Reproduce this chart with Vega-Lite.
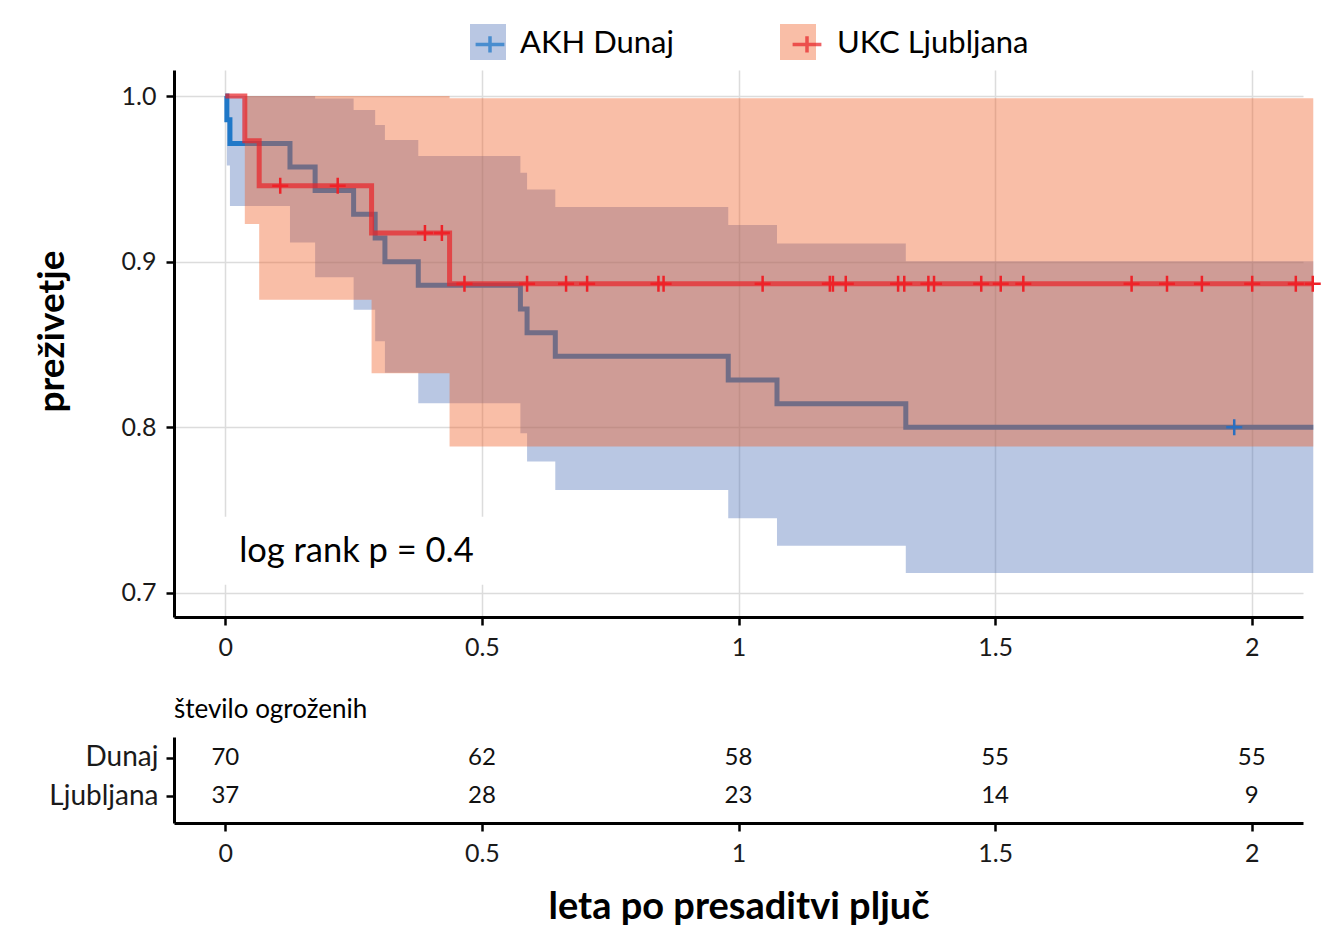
{
  "$schema": "https://vega.github.io/schema/vega-lite/v6.json",
  "background": "white",
  "padding": {"left": 33, "top": 24, "right": 5, "bottom": 5},
  "spacing": 37,
  "config": {
    "font": "Lato",
    "view": {"stroke": null},
    "axis": {
      "labelFont": "Lato", "titleFont": "Lato", "labelColor": "#1a1a1a", "titleColor": "#000",
      "domainColor": "#000", "domainWidth": 3, "tickColor": "#000", "tickWidth": 2.5, "tickSize": 8,
      "labelFontSize": 25, "grid": false
    }
  },
  "datasets": {
    "km": [
      {"group": "AKH Dunaj", "t": 0, "s": 1},
      {"group": "AKH Dunaj", "t": 0.003, "s": 0.9857},
      {"group": "AKH Dunaj", "t": 0.009, "s": 0.9714},
      {"group": "AKH Dunaj", "t": 0.126, "s": 0.9571},
      {"group": "AKH Dunaj", "t": 0.175, "s": 0.9429},
      {"group": "AKH Dunaj", "t": 0.25, "s": 0.9286},
      {"group": "AKH Dunaj", "t": 0.292, "s": 0.9143},
      {"group": "AKH Dunaj", "t": 0.311, "s": 0.9},
      {"group": "AKH Dunaj", "t": 0.376, "s": 0.8857},
      {"group": "AKH Dunaj", "t": 0.575, "s": 0.8714},
      {"group": "AKH Dunaj", "t": 0.588, "s": 0.8571},
      {"group": "AKH Dunaj", "t": 0.643, "s": 0.8429},
      {"group": "AKH Dunaj", "t": 0.98, "s": 0.8286},
      {"group": "AKH Dunaj", "t": 1.075, "s": 0.8143},
      {"group": "AKH Dunaj", "t": 1.326, "s": 0.8},
      {"group": "AKH Dunaj", "t": 2.12, "s": 0.8},
      {"group": "UKC Ljubljana", "t": 0, "s": 1},
      {"group": "UKC Ljubljana", "t": 0.038, "s": 0.973},
      {"group": "UKC Ljubljana", "t": 0.066, "s": 0.9459},
      {"group": "UKC Ljubljana", "t": 0.285, "s": 0.9173},
      {"group": "UKC Ljubljana", "t": 0.437, "s": 0.8867},
      {"group": "UKC Ljubljana", "t": 2.12, "s": 0.8867}
    ],
    "ci": [
      {"group": "AKH Dunaj", "t": 0, "lo": 1, "hi": 1},
      {"group": "AKH Dunaj", "t": 0.003, "lo": 0.958, "hi": 1},
      {"group": "AKH Dunaj", "t": 0.009, "lo": 0.9336, "hi": 1},
      {"group": "AKH Dunaj", "t": 0.126, "lo": 0.9115, "hi": 1},
      {"group": "AKH Dunaj", "t": 0.175, "lo": 0.8906, "hi": 0.9985},
      {"group": "AKH Dunaj", "t": 0.25, "lo": 0.871, "hi": 0.9915},
      {"group": "AKH Dunaj", "t": 0.292, "lo": 0.852, "hi": 0.9825},
      {"group": "AKH Dunaj", "t": 0.311, "lo": 0.833, "hi": 0.9734},
      {"group": "AKH Dunaj", "t": 0.376, "lo": 0.8145, "hi": 0.9638},
      {"group": "AKH Dunaj", "t": 0.575, "lo": 0.7964, "hi": 0.9537},
      {"group": "AKH Dunaj", "t": 0.588, "lo": 0.7793, "hi": 0.9435},
      {"group": "AKH Dunaj", "t": 0.643, "lo": 0.7622, "hi": 0.933},
      {"group": "AKH Dunaj", "t": 0.98, "lo": 0.7451, "hi": 0.9222},
      {"group": "AKH Dunaj", "t": 1.075, "lo": 0.7285, "hi": 0.911},
      {"group": "AKH Dunaj", "t": 1.326, "lo": 0.712, "hi": 0.9003},
      {"group": "AKH Dunaj", "t": 2.12, "lo": 0.712, "hi": 0.9003},
      {"group": "UKC Ljubljana", "t": 0, "lo": 1, "hi": 1},
      {"group": "UKC Ljubljana", "t": 0.038, "lo": 0.9228, "hi": 1},
      {"group": "UKC Ljubljana", "t": 0.066, "lo": 0.877, "hi": 1},
      {"group": "UKC Ljubljana", "t": 0.285, "lo": 0.8327, "hi": 1},
      {"group": "UKC Ljubljana", "t": 0.437, "lo": 0.7884, "hi": 0.9986},
      {"group": "UKC Ljubljana", "t": 2.12, "lo": 0.7884, "hi": 0.9986}
    ],
    "cens": [
      {"group": "AKH Dunaj", "t": 1.966, "s": 0.8},
      {"group": "UKC Ljubljana", "t": 0.107, "s": 0.9459},
      {"group": "UKC Ljubljana", "t": 0.219, "s": 0.9459},
      {"group": "UKC Ljubljana", "t": 0.389, "s": 0.9173},
      {"group": "UKC Ljubljana", "t": 0.422, "s": 0.9173},
      {"group": "UKC Ljubljana", "t": 0.466, "s": 0.8867},
      {"group": "UKC Ljubljana", "t": 0.588, "s": 0.8867},
      {"group": "UKC Ljubljana", "t": 0.664, "s": 0.8867},
      {"group": "UKC Ljubljana", "t": 0.705, "s": 0.8867},
      {"group": "UKC Ljubljana", "t": 0.844, "s": 0.8867},
      {"group": "UKC Ljubljana", "t": 0.854, "s": 0.8867},
      {"group": "UKC Ljubljana", "t": 1.047, "s": 0.8867},
      {"group": "UKC Ljubljana", "t": 1.178, "s": 0.8867},
      {"group": "UKC Ljubljana", "t": 1.184, "s": 0.8867},
      {"group": "UKC Ljubljana", "t": 1.209, "s": 0.8867},
      {"group": "UKC Ljubljana", "t": 1.311, "s": 0.8867},
      {"group": "UKC Ljubljana", "t": 1.323, "s": 0.8867},
      {"group": "UKC Ljubljana", "t": 1.37, "s": 0.8867},
      {"group": "UKC Ljubljana", "t": 1.381, "s": 0.8867},
      {"group": "UKC Ljubljana", "t": 1.473, "s": 0.8867},
      {"group": "UKC Ljubljana", "t": 1.511, "s": 0.8867},
      {"group": "UKC Ljubljana", "t": 1.555, "s": 0.8867},
      {"group": "UKC Ljubljana", "t": 1.766, "s": 0.8867},
      {"group": "UKC Ljubljana", "t": 1.835, "s": 0.8867},
      {"group": "UKC Ljubljana", "t": 1.903, "s": 0.8867},
      {"group": "UKC Ljubljana", "t": 2.001, "s": 0.8867},
      {"group": "UKC Ljubljana", "t": 2.086, "s": 0.8867},
      {"group": "UKC Ljubljana", "t": 2.119, "s": 0.8867}
    ],
    "risk": [
      {"strata": "Dunaj", "t": 0, "n": 70},
      {"strata": "Dunaj", "t": 0.5, "n": 62},
      {"strata": "Dunaj", "t": 1, "n": 58},
      {"strata": "Dunaj", "t": 1.5, "n": 55},
      {"strata": "Dunaj", "t": 2, "n": 55},
      {"strata": "Ljubljana", "t": 0, "n": 37},
      {"strata": "Ljubljana", "t": 0.5, "n": 28},
      {"strata": "Ljubljana", "t": 1, "n": 23},
      {"strata": "Ljubljana", "t": 1.5, "n": 14},
      {"strata": "Ljubljana", "t": 2, "n": 9}
    ]
  },
  "vconcat": [
    {
      "width": 1129,
      "height": 547,
      "layer": [
        {
          "data": {"name": "ci"},
          "transform": [{"filter": "datum.group == 'AKH Dunaj'"}],
          "mark": {"type": "area", "interpolate": "step-after", "opacity": 0.4},
          "encoding": {
            "x": {"field": "t", "type": "quantitative",
              "scale": {"domain": [-0.1, 2.1], "nice": false, "zero": false},
              "axis": {"values": [0, 0.5, 1, 1.5, 2], "format": "~g", "title": null, "grid": true, "gridColor": "#dcdcdc", "gridWidth": 1.5, "labelPadding": 10}},
            "y": {"field": "lo", "type": "quantitative",
              "scale": {"domain": [0.6855, 1.0157], "nice": false, "zero": false},
              "axis": {"values": [0.7, 0.8, 0.9, 1.0], "format": ".1f", "grid": true, "gridColor": "#dcdcdc", "gridWidth": 1.5,
                "title": "preživetje", "titleFontSize": 37, "titleFontWeight": "bold", "titlePadding": 50, "titleY": 261, "labelPadding": 10}},
            "y2": {"field": "hi"},
            "fill": {"field": "group", "type": "nominal",
              "scale": {"domain": ["AKH Dunaj", "UKC Ljubljana"], "range": ["#5073b9", "#f05d23"]},
              "legend": {"orient": "none", "legendX": 296, "legendY": -46, "direction": "horizontal", "title": null,
                "symbolType": "square", "symbolSize": 1296, "symbolOpacity": 0.4, "symbolStrokeWidth": 0,
                "labelFontSize": 31, "labelFont": "Lato", "labelOffset": 10, "columnPadding": 264, "labelExpr": "''", "padding": 0}}
          }
        },
        {
          "data": {"name": "km"},
          "transform": [{"filter": "datum.group == 'AKH Dunaj'"}],
          "mark": {"type": "line", "interpolate": "step-after", "strokeWidth": 5},
          "encoding": {
            "x": {"field": "t", "type": "quantitative"},
            "y": {"field": "s", "type": "quantitative"},
            "stroke": {"field": "group", "type": "nominal",
              "scale": {"range": ["#1f78c8", "#e8262a"]},
              "legend": {"orient": "none", "legendX": 296, "legendY": -46, "direction": "horizontal", "title": null,
                "symbolType": "M-0.8,0H0.8M0,-0.45V0.45", "symbolSize": 1296, "symbolStrokeWidth": 3.5, "symbolFillColor": "transparent", "symbolOpacity": 1,
                "labelFontSize": 31, "labelFont": "Lato", "labelColor": "#000", "labelOffset": 10, "labelLimit": 400, "columnPadding": 111, "padding": 0}}
          }
        },
        {
          "data": {"name": "ci"},
          "transform": [{"filter": "datum.group == 'UKC Ljubljana'"}],
          "mark": {"type": "area", "interpolate": "step-after", "opacity": 0.4},
          "encoding": {
            "x": {"field": "t", "type": "quantitative"},
            "y": {"field": "lo", "type": "quantitative"},
            "y2": {"field": "hi"},
            "fill": {"field": "group", "type": "nominal"}
          }
        },
        {
          "data": {"name": "km"},
          "transform": [{"filter": "datum.group == 'UKC Ljubljana'"}],
          "mark": {"type": "line", "interpolate": "step-after", "strokeWidth": 5, "opacity": 0.72},
          "encoding": {
            "x": {"field": "t", "type": "quantitative"},
            "y": {"field": "s", "type": "quantitative"},
            "stroke": {"field": "group", "type": "nominal"}
          }
        },
        {
          "data": {"name": "cens"},
          "transform": [{"filter": "datum.group == 'UKC Ljubljana'"}],
          "mark": {"type": "point", "shape": "M-1,0H1M0,-1V1", "size": 256, "strokeWidth": 2.5, "filled": false, "color": "#ee2228", "opacity": 1},
          "encoding": {
            "x": {"field": "t", "type": "quantitative"},
            "y": {"field": "s", "type": "quantitative"}
          }
        },
        {
          "data": {"name": "cens"},
          "transform": [{"filter": "datum.group == 'AKH Dunaj'"}],
          "mark": {"type": "point", "shape": "M-1,0H1M0,-1V1", "size": 256, "strokeWidth": 2.5, "filled": false, "color": "#2a6fc0", "opacity": 1},
          "encoding": {
            "x": {"field": "t", "type": "quantitative"},
            "y": {"field": "s", "type": "quantitative"}
          }
        },
        {
          "data": {"values": [{"label": "log rank p = 0.4"}]},
          "mark": {"type": "rect", "fill": "white"},
          "encoding": {
            "x": {"datum": -0.004, "type": "quantitative"}, "x2": {"datum": 0.513},
            "y": {"datum": 0.746, "type": "quantitative"}, "y2": {"datum": 0.705}
          }
        },
        {
          "data": {"values": [{"label": "log rank p = 0.4"}]},
          "mark": {"type": "text", "align": "left", "baseline": "middle", "fontSize": 34.5, "font": "Lato", "color": "#000"},
          "encoding": {
            "x": {"datum": 0.027, "type": "quantitative"},
            "y": {"datum": 0.725, "type": "quantitative"},
            "text": {"field": "label", "type": "nominal"}
          }
        }
      ]
    },
    {
      "width": 1129,
      "height": 86,
      "title": {"text": "število ogroženih", "anchor": "start", "frame": "group", "fontSize": 26, "fontWeight": "normal", "font": "Lato", "color": "#000", "offset": 14},
      "data": {"name": "risk"},
      "mark": {"type": "text", "fontSize": 24, "font": "Lato", "color": "#111", "baseline": "middle", "dy": -3},
      "encoding": {
        "x": {"field": "t", "type": "quantitative",
          "scale": {"domain": [-0.1, 2.1], "nice": false, "zero": false},
          "axis": {"values": [0, 0.5, 1, 1.5, 2], "format": "~g", "title": "leta po presaditvi pljuč", "titleFontSize": 38, "titleFontWeight": "bold", "titlePadding": 22, "labelPadding": 10}},
        "y": {"field": "strata", "type": "nominal", "sort": ["Dunaj", "Ljubljana"],
          "scale": {"type": "point", "padding": 0.63},
          "axis": {"title": null, "labelFontSize": 28, "labelPadding": 8, "labelColor": "#1a1a1a", "tickOffset": -3}},
        "text": {"field": "n", "type": "quantitative"}
      }
    }
  ]
}
